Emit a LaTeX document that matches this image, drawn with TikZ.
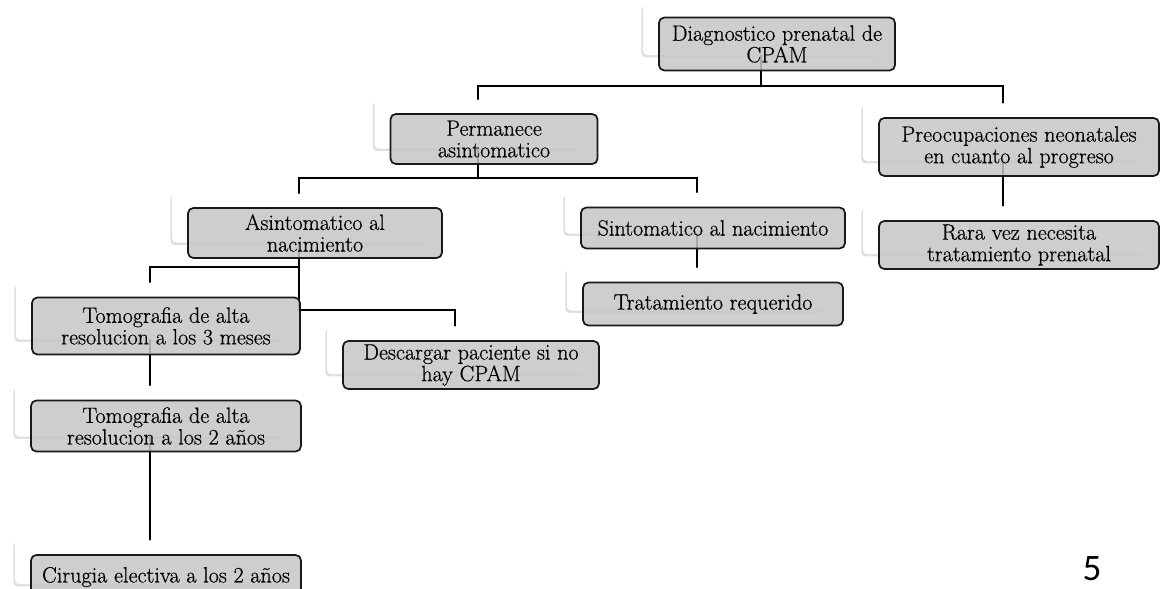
\documentclass[tikz,border=0pt]{standalone}
\usepackage{fontspec}
\newfontfamily\boxfont{Latin Modern Roman}[FakeBold=0.6,AutoFakeBold=0.6]
\newfontfamily\pagefont{Carlito}
\usetikzlibrary{shadows}

\begin{document}
\begin{tikzpicture}[x=0.75pt, y=-0.75pt, line cap=round,
  backbox/.style={fill=white, draw=none, rounded corners=3pt, inner sep=0pt,
    drop shadow={shadow xshift=-1.2pt, shadow yshift=-1.8pt, opacity=0.25}},
  frontbox/.style={draw=black!90, line width=1.3pt, fill=gray!45,
    fill opacity=0.85, text opacity=1, rounded corners=4pt, inner sep=0pt,
    align=center, font=\boxfont\bfseries\fontsize{16.6}{16.2}\selectfont},
  conn/.style={draw=black, line width=1.5pt}]

  \useasboundingbox (0,0) rectangle (1161,589);

  % white cards behind the boxes
  \foreach \n/\x/\y/\w/\h in {diag/761/29/236/52, perm/478/124/207/49,
      preo/1003/132/280/58, rara/1003/230/280/48, asin/299/218/254/49,
      sint/697/213/264/41, trat/697/289/260/43, tomt/150/311/268/57,
      desc/455/350/256/48, tomd/150/411/270/51, ciru/150/562/270/44}{
    \node[backbox, minimum width={\w*0.75pt}, minimum height={\h*0.75pt}]
      (\n-bk) at (\x,\y) {};
  }

  % connectors, from card to card
  \draw[conn] (diag-bk.south) -- ++(0,31) coordinate (busa);
  \draw[conn] (busa) -| (perm-bk.north);
  \draw[conn] (busa) -| (preo-bk.north);
  \draw[conn] (perm-bk.south) -- ++(0,29.5) coordinate (busb);
  \draw[conn] (busb) -| (asin-bk.north);
  \draw[conn] (busb) -| (sint-bk.north);
  \draw[conn] (asin-bk.south) -- ++(0,24.5) coordinate (busc)
              -- ++(0,43) coordinate (busd);
  \draw[conn] (busc) -| (tomt-bk.north);
  \draw[conn] (busd) -| (desc-bk.north);
  \draw[conn] (sint-bk.south) -- (trat-bk.north);
  \draw[conn] (preo-bk.south) -- (rara-bk.north);
  \draw[conn] (tomt-bk.south) -- (tomd-bk.north);
  \draw[conn] (tomd-bk.south) -- (ciru-bk.north);

  % grey boxes with the texts, shifted off their cards
  \foreach \n/\w/\h/\t in {
      diag/236/53/{Diagnostico prenatal de\\CPAM},
      perm/207/50/{Permanece\\asintomatico},
      preo/280/58/{Preocupaciones neonatales\\en cuanto al progreso},
      rara/280/48/{Rara vez necesita\\tratamiento prenatal},
      asin/254/50/{Asintomatico al\\nacimiento},
      sint/264/41/{Sintomatico al nacimiento},
      trat/260/43/{Tratamiento requerido},
      tomt/268/57/{Tomografia de alta\\resolucion a los 3 meses},
      desc/256/48/{Descargar paciente si no\\hay CPAM},
      tomd/270/51/{Tomografia de alta\\resolucion a los 2 años},
      ciru/270/44/{Cirugia electiva a los 2 años}}{
    \node[frontbox, minimum width={\w*0.75pt}, minimum height={\h*0.75pt}]
      (\n) at ([shift={(16,15)}]\n-bk.center) {\t};
  }

  % page number
  \node[font=\pagefont\fontsize{28}{30}\selectfont, inner sep=0pt]
    (pagenum) at (1092,569) {5};

\end{tikzpicture}
\end{document}
